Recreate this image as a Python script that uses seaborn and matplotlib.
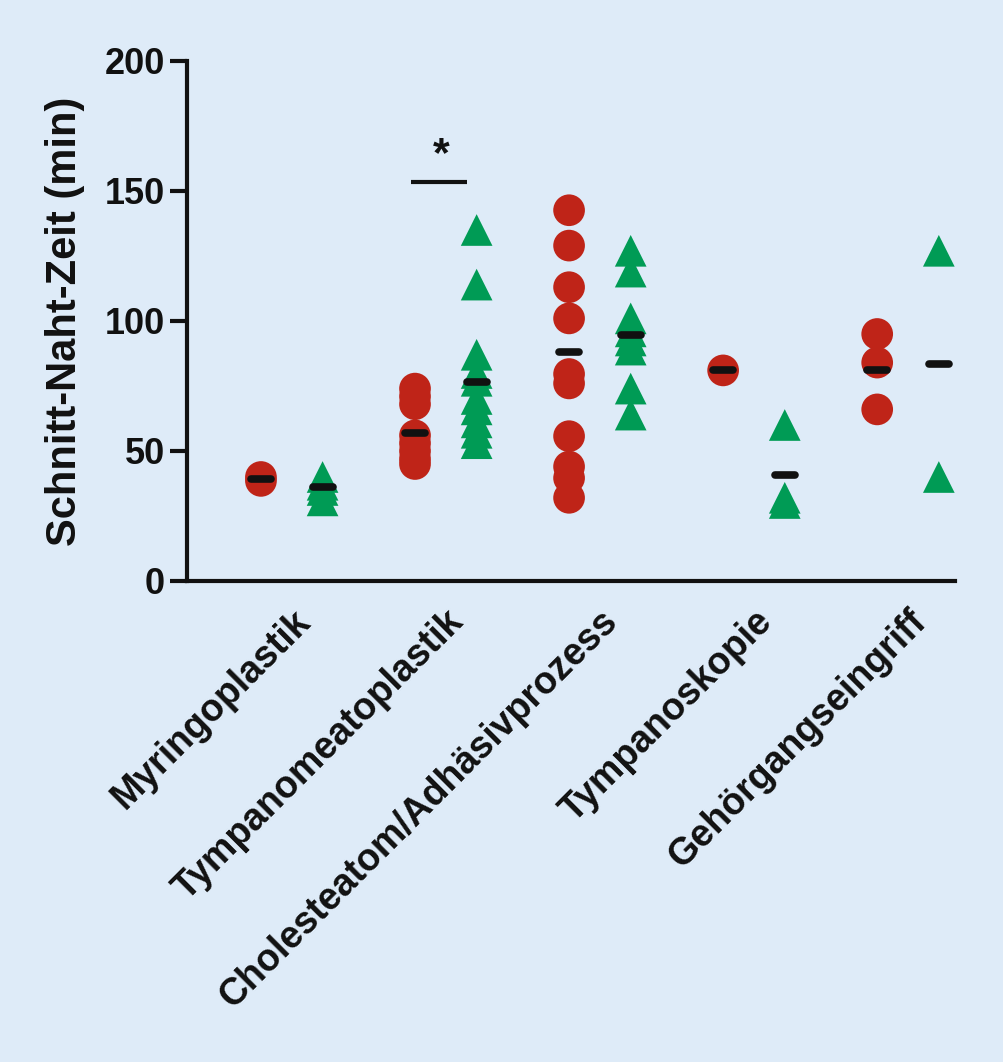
import numpy as np
import pandas as pd
import matplotlib.pyplot as plt
import seaborn as sns

# Eingriffe (x-Achse)
kategorien = ["Myringoplastik", "Tympanomeatoplastik", "Cholesteatom/Adhäsivprozess",
              "Tympanoskopie", "Gehörgangseingriff"]

# Schnitt-Naht-Zeit in min, rote Kreise
werte_rot = [
    [38.5, 40],
    [74, 71, 68, 56, 53, 50, 47, 45],
    [142.6, 129, 113, 101, 79.6, 76, 55.7, 44, 39.6, 32],
    [81],
    [95, 84, 66],
]
# Schnitt-Naht-Zeit in min, gruene Dreiecke
werte_gruen = [
    [40, 37, 35, 31],
    [135, 114, 87, 80, 77, 70, 66, 61, 57, 53],
    [127, 119, 101, 96, 92.5, 89, 74, 64],
    [60, 32, 30],
    [127, 40],
]
# Querstriche (Mittelwerte)
mittel_rot = [39.3, 56.9, 88.1, 81, 81.3]
mittel_gruen = [36.2, 76.6, 94.8, 40.6, 83.5]

# Signifikanz Tympanomeatoplastik
sig_hoehe = 153.6
stern_hoehe = 159.5

ROT = "#bf2418"
GRUEN = "#009b55"
HG = "#deebf8"
SCHWARZ = "#111111"
versatz = 0.2

# Tabelle fuer seaborn aufbauen
zeilen = []
for i, kat in enumerate(kategorien):
    for v in werte_rot[i]:
        zeilen.append({"pos": i - versatz, "zeit": v, "gruppe": "rot"})
    for v in werte_gruen[i]:
        zeilen.append({"pos": i + versatz, "zeit": v, "gruppe": "gruen"})
df = pd.DataFrame(zeilen)

sns.set_style("ticks")
plt.rcParams["font.family"] = ["Liberation Sans", "DejaVu Sans"]
plt.rcParams["font.weight"] = "bold"
plt.rcParams["text.color"] = SCHWARZ
plt.rcParams["axes.labelcolor"] = SCHWARZ
plt.rcParams["xtick.color"] = SCHWARZ
plt.rcParams["ytick.color"] = SCHWARZ

fig = plt.figure(figsize=(10.04, 10.62), dpi=100)
fig.patch.set_facecolor(HG)
ax = fig.add_axes([187 / 1004, 481 / 1062, (955 - 187) / 1004, (581 - 61) / 1062])
ax.set_facecolor(HG)

sns.scatterplot(data=df, x="pos", y="zeit", hue="gruppe", style="gruppe",
                palette={"rot": ROT, "gruen": GRUEN},
                markers={"rot": "o", "gruen": "^"},
                s=520, linewidth=0, legend=False, ax=ax, zorder=2, clip_on=False)

# Mittelwert-Striche
halb = 0.065
for i in range(len(kategorien)):
    for m, dx in ((mittel_rot[i], -versatz), (mittel_gruen[i], versatz)):
        ax.plot([i + dx - halb, i + dx + halb], [m, m], color=SCHWARZ, lw=5.5,
                solid_capstyle="round", zorder=3)

# Signifikanzbalken mit Stern
ax.plot([0.771, 1.136], [sig_hoehe, sig_hoehe], color=SCHWARZ, lw=3,
        solid_capstyle="butt", clip_on=False)
ax.text(0.97, stern_hoehe, "*", ha="center", va="baseline", fontsize=31,
        fontweight="bold", color=SCHWARZ)

ax.set_xlim(-0.68, 4.305)
ax.set_ylim(0, 200)
ax.set_yticks([0, 50, 100, 150, 200])
ax.set_xticks(range(len(kategorien)))
ax.set_xticklabels(kategorien, rotation=45, ha="right", va="top",
                   rotation_mode="anchor", fontsize=27, fontweight="bold",
                   color=SCHWARZ)
ax.tick_params(axis="x", length=0, pad=16)
ax.tick_params(axis="y", length=12, width=3, color=SCHWARZ, labelsize=26,
               labelcolor=SCHWARZ, pad=4)
for t in ax.get_yticklabels():
    t.set_fontweight("bold")

ax.set_xlabel("")
ax.set_ylabel("Schnitt-Naht-Zeit (min)", fontsize=30, fontweight="bold",
              color=SCHWARZ)
ax.yaxis.set_label_coords(-0.133, 0.5)

for s in ["top", "right"]:
    ax.spines[s].set_visible(False)
for s in ["left", "bottom"]:
    ax.spines[s].set_linewidth(3)
    ax.spines[s].set_color(SCHWARZ)
    ax.spines[s].set_capstyle("projecting")

fig.savefig("out.png", dpi=100, facecolor=HG)
